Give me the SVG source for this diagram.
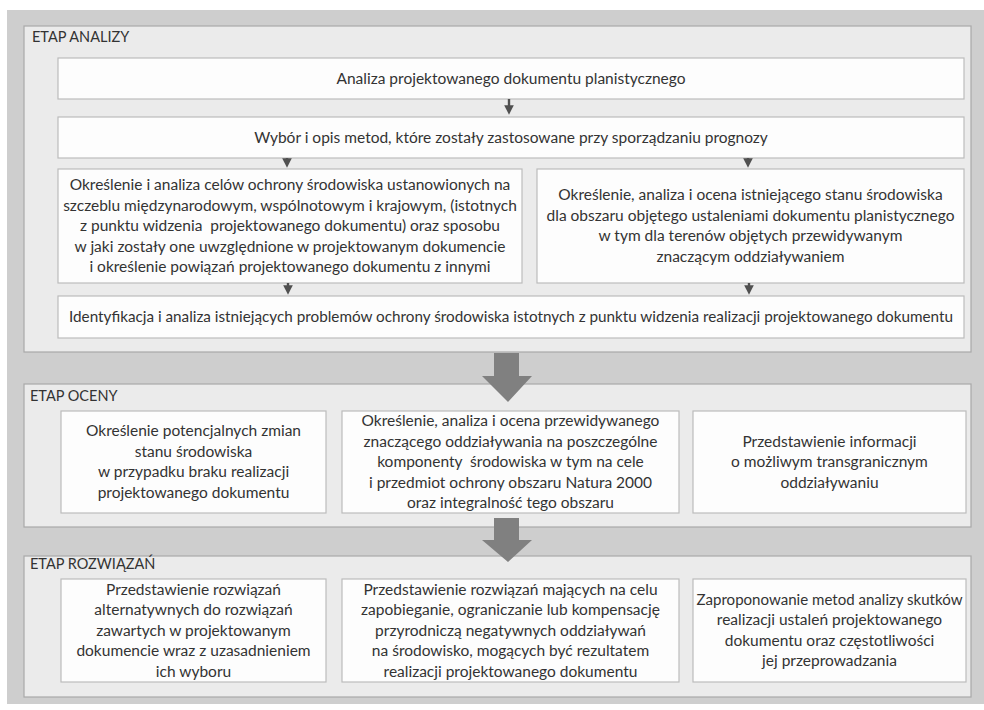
<svg xmlns="http://www.w3.org/2000/svg" width="984" height="710" viewBox="0 0 984 710">
<style>
.bg{fill:#cecece}
.panel{fill:#ebebeb;stroke:#a9a9a9;stroke-width:1.2}
.box{fill:#fdfdfd;stroke:#bcbcbc;stroke-width:1.2}
.hdr{font-family:Lato,"Open Sans",sans-serif;font-size:14.5px;fill:#333}
.t{font-family:Lato,"Open Sans",sans-serif;font-size:15.5px;fill:#333;text-anchor:middle}
.cond{font-family:Lato,"Open Sans",sans-serif;font-size:14.4px;fill:#333;text-anchor:middle}
.sa{stroke:#505050;stroke-width:2.4;fill:none}
.big{fill:#808080}
</style>
<defs>
<marker id="ah" markerWidth="4" markerHeight="4" refX="2.4" refY="2" orient="auto" markerUnits="strokeWidth">
<path d="M0,0 L4,2 L0,4 Z" fill="#505050"/>
</marker>
</defs>
<rect class="bg" x="7" y="10" width="977" height="694"/>

<g id="etap-analizy">
<rect class="panel" x="24" y="26" width="947" height="326"/>
<text class="hdr" x="32" y="42">ETAP ANALIZY</text>
</g>
<g id="etap-oceny">
<rect class="panel" x="24" y="384" width="947" height="143"/>
<text class="hdr" x="30" y="401">ETAP OCENY</text>
</g>
<g id="etap-rozwiazan">
<rect class="panel" x="24" y="556" width="947" height="141"/>
<text class="hdr" x="30" y="569">ETAP ROZWIĄZAŃ</text>
</g>

<g id="n1">
<rect class="box" x="58" y="58" width="906" height="41"/>
<text class="t" x="511" y="84">Analiza projektowanego dokumentu planistycznego</text>
</g>
<g id="n2">
<rect class="box" x="58" y="117" width="906" height="41"/>
<text class="t" x="511" y="143">Wybór i opis metod, które zostały zastosowane przy sporządzaniu prognozy</text>
</g>
<g id="n3">
<rect class="box" x="58" y="169" width="464" height="114"/>
<text class="t" x="290" y="190">Określenie i analiza celów ochrony środowiska ustanowionych na</text>
<text class="t" x="290" y="210.5">szczeblu międzynarodowym, wspólnotowym i krajowym, (istotnych</text>
<text class="t" x="290" y="231" xml:space="preserve">z punktu widzenia  projektowanego dokumentu) oraz sposobu</text>
<text class="t" x="290" y="251.5">w jaki zostały one uwzględnione w projektowanym dokumencie</text>
<text class="t" x="290" y="272">i określenie powiązań projektowanego dokumentu z innymi</text>
</g>
<g id="n4">
<rect class="box" x="537" y="169" width="427" height="114"/>
<text class="t" x="750.5" y="200">Określenie, analiza i ocena istniejącego stanu środowiska</text>
<text class="t" x="750.5" y="220.5">dla obszaru objętego ustaleniami dokumentu planistycznego</text>
<text class="t" x="750.5" y="241">w tym dla terenów objętych przewidywanym</text>
<text class="t" x="750.5" y="261.5">znaczącym oddziaływaniem</text>
</g>
<g id="n5">
<rect class="box" x="58" y="296" width="906" height="42"/>
<text class="cond" x="511" y="322" textLength="884" lengthAdjust="spacingAndGlyphs">Identyfikacja i analiza istniejących problemów ochrony środowiska istotnych z punktu widzenia realizacji projektowanego dokumentu</text>
</g>

<g id="n6">
<rect class="box" x="61" y="411" width="265" height="102"/>
<text class="t" x="193.5" y="436">Określenie potencjalnych zmian</text>
<text class="t" x="193.5" y="456.5">stanu środowiska</text>
<text class="t" x="193.5" y="477">w przypadku braku realizacji</text>
<text class="t" x="193.5" y="497.5">projektowanego dokumentu</text>
</g>
<g id="n7">
<rect class="box" x="342" y="411" width="337" height="102"/>
<text class="t" x="510.5" y="426">Określenie, analiza i ocena przewidywanego</text>
<text class="t" x="510.5" y="446.5">znaczącego oddziaływania na poszczególne</text>
<text class="t" x="510.5" y="467" xml:space="preserve">komponenty  środowiska w tym na cele</text>
<text class="t" x="510.5" y="487.5">i przedmiot ochrony obszaru Natura 2000</text>
<text class="t" x="510.5" y="508">oraz integralność tego obszaru</text>
</g>
<g id="n8">
<rect class="box" x="693" y="411" width="273" height="102"/>
<text class="t" x="829.5" y="446.5">Przedstawienie informacji</text>
<text class="t" x="829.5" y="467">o możliwym transgranicznym</text>
<text class="t" x="829.5" y="487.5">oddziaływaniu</text>
</g>

<g id="n9">
<rect class="box" x="61" y="579" width="265" height="103"/>
<text class="t" x="193.5" y="594.5">Przedstawienie rozwiązań</text>
<text class="t" x="193.5" y="615">alternatywnych do rozwiązań</text>
<text class="t" x="193.5" y="635.5">zawartych w projektowanym</text>
<text class="t" x="193.5" y="656">dokumencie wraz z uzasadnieniem</text>
<text class="t" x="193.5" y="676.5">ich wyboru</text>
</g>
<g id="n10">
<rect class="box" x="342" y="579" width="337" height="103"/>
<text class="t" x="510.5" y="594.5">Przedstawienie rozwiązań mających na celu</text>
<text class="t" x="510.5" y="615">zapobieganie, ograniczanie lub kompensację</text>
<text class="t" x="510.5" y="635.5">przyrodniczą negatywnych oddziaływań</text>
<text class="t" x="510.5" y="656">na środowisko, mogących być rezultatem</text>
<text class="t" x="510.5" y="676.5">realizacji projektowanego dokumentu</text>
</g>
<g id="n11">
<rect class="box" x="693" y="579" width="273" height="103"/>
<text class="t" x="829.5" y="604.75" textLength="266" lengthAdjust="spacingAndGlyphs">Zaproponowanie metod analizy skutków</text>
<text class="t" x="829.5" y="625.25">realizacji ustaleń projektowanego</text>
<text class="t" x="829.5" y="645.75">dokumentu oraz częstotliwości</text>
<text class="t" x="829.5" y="666.25">jej przeprowadzania</text>
</g>

<g id="connectors">
<line class="sa" x1="509" y1="99" x2="509" y2="111" marker-end="url(#ah)"/>
<line class="sa" x1="287" y1="158" x2="287" y2="164" marker-end="url(#ah)"/>
<line class="sa" x1="748" y1="158" x2="748" y2="164" marker-end="url(#ah)"/>
<line class="sa" x1="288" y1="283" x2="288" y2="291" marker-end="url(#ah)"/>
<line class="sa" x1="749" y1="283" x2="749" y2="291" marker-end="url(#ah)"/>
<path class="big" d="M494,353 L519,353 L519,376 L532,376 L508,402 L482,376 L494,376 Z"/>
<path class="big" d="M494,518 L519,518 L519,540 L532,540 L508,562 L482,540 L494,540 Z"/>
</g>
</svg>
